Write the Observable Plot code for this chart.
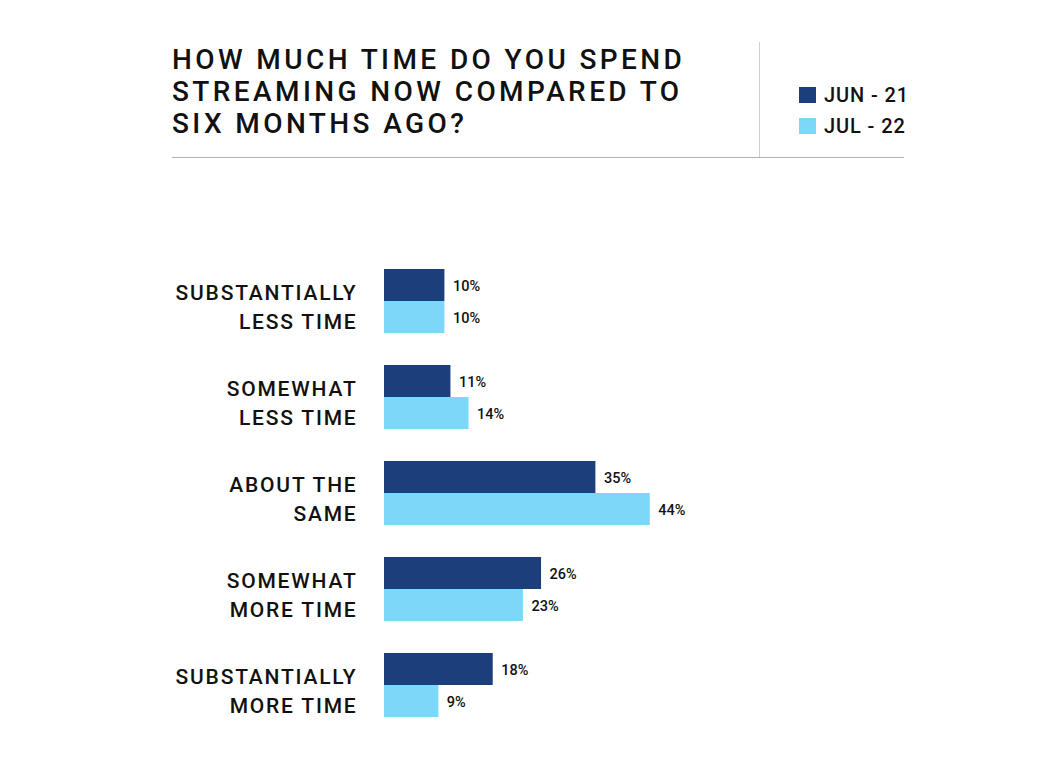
<!DOCTYPE html>
<html>
<head>
<meta charset="utf-8">
<script src="https://cdn.jsdelivr.net/npm/d3@7"></script>
<script src="https://cdn.jsdelivr.net/npm/@observablehq/plot@0.6"></script>
<style>
  html, body { margin: 0; padding: 0; background: #fff; }
  body { width: 1054px; height: 774px; overflow: hidden; font-family: Roboto, "Noto Sans", sans-serif; color: #111; }
  #header { position: relative; height: 220px; }
  #title { position: absolute; left: 172px; top: 43.7px; font-size: 28px; line-height: 32px; letter-spacing: 3.4px; font-weight: 500; white-space: nowrap; }
  #rule { position: absolute; left: 172px; top: 157px; width: 732px; height: 1px; background: #b3b3b3; }
  #divider { position: absolute; left: 759px; top: 42px; width: 1px; height: 115px; background: #cfcfcf; }
  .key { position: absolute; left: 799px; display: flex; align-items: center; font-size: 20px; line-height: 20px; font-weight: 500; letter-spacing: 0.9px; white-space: nowrap; }
  .swatch { width: 17px; height: 16px; margin-right: 8px; }
  #chart svg g[aria-label="fy-axis tick label"] { letter-spacing: 1.8px; }
</style>
</head>
<body>
<div id="header">
  <div id="title"></div>
  <div id="divider"></div>
  <div id="rule"></div>
  <div id="legend"></div>
</div>
<div id="chart"></div>
<script>
// Survey answers, one row per response option
const categories = [
  "SUBSTANTIALLY\nLESS TIME",
  "SOMEWHAT\nLESS TIME",
  "ABOUT THE\nSAME",
  "SOMEWHAT\nMORE TIME",
  "SUBSTANTIALLY\nMORE TIME"
];
// Survey waves
const series = ["JUN - 21", "JUL - 22"];
// Share of respondents (%) per wave
const jun21 = [10, 11, 35, 26, 18];
const jul22 = [10, 14, 44, 23, 9];
const colors = ["#1b3f7a", "#7dd7f8"];
const titleLines = ["HOW MUCH TIME DO YOU SPEND", "STREAMING NOW COMPARED TO", "SIX MONTHS AGO?"];

// Header: title and legend
document.getElementById("title").innerHTML = titleLines.join("<br>");
const legend = document.getElementById("legend");
const keyTops = [84.7, 115.7];
series.forEach((s, i) => {
  const k = document.createElement("div");
  k.className = "key";
  k.style.top = keyTops[i] + "px";
  k.innerHTML = `<div class="swatch" style="background:${colors[i]}"></div><span>${s}</span>`;
  legend.appendChild(k);
});

// Long table for the grouped bars
const data = categories.flatMap((c, i) => [
  {category: c, series: series[0], value: jun21[i]},
  {category: c, series: series[1], value: jul22[i]}
]);

const chart = Plot.plot({
  width: 1054,
  height: 554,
  marginLeft: 384,
  marginRight: 368,
  marginTop: 49,
  marginBottom: 57,
  style: {fontFamily: "Roboto, 'Noto Sans', sans-serif", color: "#111", background: "#fff"},
  x: {domain: [0, 50], axis: null},
  y: {domain: series, axis: null, padding: 0},
  fy: {domain: categories, paddingInner: 1 / 3, paddingOuter: 0, label: null},
  color: {domain: series, range: colors},
  marks: [
    Plot.barX(data, {x: "value", y: "series", fy: "category", fill: "series"}),
    Plot.text(data, {
      x: "value", y: "series", fy: "category",
      text: d => d.value + "%",
      dx: 8, dy: 1, textAnchor: "start", fontSize: 14.5, fontWeight: 500, fill: "#111"
    }),
    Plot.axisFy({
      anchor: "left", tickSize: 0, tickPadding: 27, label: null,
      fontSize: 21, fontWeight: 500, lineHeight: 1.37, dy: 4, fill: "#111"
    })
  ]
});
document.getElementById("chart").appendChild(chart);
</script>
</body>
</html>
